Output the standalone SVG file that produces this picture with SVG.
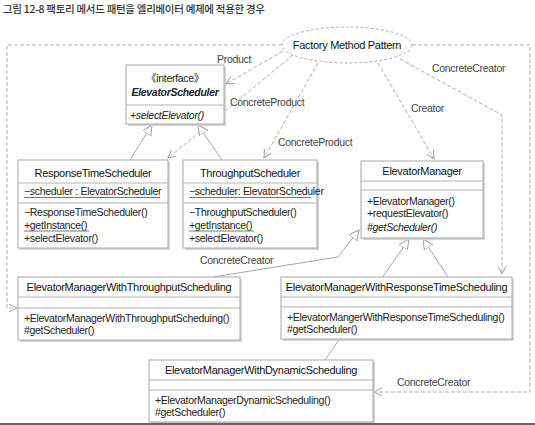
<svg xmlns="http://www.w3.org/2000/svg" width="535" height="425" viewBox="0 0 535 425">
<style>
.t{font-family:"Liberation Sans",Arial,sans-serif;font-size:10.5px;fill:#222;letter-spacing:-0.3px}
.c{text-anchor:middle}
.h{font-size:11px;fill:#111}
.i{font-style:italic}
.b{font-weight:bold}
.lab{font-family:"Liberation Sans",Arial,sans-serif;font-size:10.5px;fill:#444;letter-spacing:-0.3px}
.box{fill:#fff;stroke:#a8a8a8;stroke-width:1}
.sh{fill:#d4d4d4}
.dv{stroke:#b4b4b4;stroke-width:1}
.ul{stroke:#555;stroke-width:0.8}
.dash{fill:none;stroke:#b0b0b0;stroke-width:1;stroke-dasharray:4 2}
.gen{fill:none;stroke:#a8a8a8;stroke-width:1}
</style>
<defs>
<marker id="open" markerWidth="10" markerHeight="10" refX="8" refY="4" orient="auto" markerUnits="userSpaceOnUse">
<path d="M0,0 L8,4 L0,8" fill="none" stroke="#a0a0a0" stroke-width="1"/>
</marker>
<marker id="tri" markerWidth="12" markerHeight="12" refX="10" refY="5" orient="auto" markerUnits="userSpaceOnUse">
<path d="M0,0 L10,5 L0,10 Z" fill="#fff" stroke="#a0a0a0" stroke-width="1"/>
</marker>
</defs>
<rect width="535" height="425" fill="#fff"/>
<text x="3" y="13" style="font-family:'Noto Sans CJK KR','Liberation Sans',sans-serif;font-size:10.5px;fill:#333;font-weight:500;letter-spacing:-0.3px">그림 12-8 팩토리 메서드 패턴을 엘리베이터 예제에 적용한 경우</text>
<rect x="0" y="423" width="535" height="2" fill="#666"/>

<g id="connectors">
<path class="dash" d="M282,45 L7,45 L7,308 L17,308" marker-end="url(#open)"/>
<path class="dash" d="M412,45 L530,45 L530,392 L374,392" marker-end="url(#open)"/>
<path class="dash" d="M288,48 L226,84" marker-end="url(#open)"/>
<path class="dash" d="M293,55 L168,158" marker-end="url(#open)"/>
<path class="dash" d="M318,63 L264,158" marker-end="url(#open)"/>
<path class="dash" d="M378,63 L434,159" marker-end="url(#open)"/>
<path class="dash" d="M400,59 L502,115 L502,274" marker-end="url(#open)"/>
<path class="gen" d="M130,160 L152,125" marker-end="url(#tri)"/>
<path class="gen" d="M222,160 L198,125" marker-end="url(#tri)"/>
<path class="gen" d="M213,277 L338,257 L359,230" marker-end="url(#tri)"/>
<path class="gen" d="M448,277 L423,239" marker-end="url(#tri)"/>
<path class="gen" d="M325,360 L409,239" marker-end="url(#tri)"/>
<text class="lab" x="217" y="63">Product</text>
<text class="lab" x="230" y="106">ConcreteProduct</text>
<text class="lab" x="278" y="146">ConcreteProduct</text>
<text class="lab" x="411" y="112">Creator</text>
<text class="lab" x="432" y="72">ConcreteCreator</text>
<text class="lab" x="200" y="264">ConcreteCreator</text>
<text class="lab" x="397" y="386">ConcreteCreator</text>
</g>

<g id="factory-method-pattern">
<ellipse cx="347" cy="45" rx="65" ry="18" fill="#fff" stroke="#b0b0b0" stroke-dasharray="3 2"/>
<text class="t c h" x="347" y="49">Factory Method Pattern</text>
</g>

<g id="elevator-scheduler">
<rect class="sh" x="128" y="67" width="98" height="59"/>
<rect class="box" x="126" y="65" width="98" height="59"/>
<line class="dv" x1="126" y1="105" x2="224" y2="105"/>
<text class="t c" x="175" y="82" style="font-family:'Liberation Sans','Noto Sans CJK KR',sans-serif">《interface》</text>
<text class="t c i b" x="175" y="96">ElevatorScheduler</text>
<text class="t i" x="130" y="119">+selectElevator()</text>
</g>

<g id="response-time-scheduler">
<rect class="sh" x="20" y="162" width="150" height="88"/>
<rect class="box" x="18" y="160" width="150" height="88"/>
<line class="dv" x1="18" y1="183" x2="168" y2="183"/>
<line class="dv" x1="18" y1="203" x2="168" y2="203"/>
<text class="t c h" x="93" y="177">ResponseTimeScheduler</text>
<text class="t" x="24" y="195">−scheduler : ElevatorScheduler</text>
<line class="ul" x1="24" y1="197.5" x2="160" y2="197.5"/>
<text class="t" x="24" y="216">−ResponseTimeScheduler()</text>
<text class="t" x="24" y="229">+getInstance()</text>
<line class="ul" x1="24" y1="231" x2="89" y2="231"/>
<text class="t" x="24" y="242">+selectElevator()</text>
</g>

<g id="throughput-scheduler">
<rect class="sh" x="185" y="162" width="134" height="88"/>
<rect class="box" x="183" y="160" width="134" height="88"/>
<line class="dv" x1="183" y1="183" x2="317" y2="183"/>
<line class="dv" x1="183" y1="203" x2="317" y2="203"/>
<text class="t c h" x="250" y="177">ThroughputScheduler</text>
<text class="t" x="189" y="195">−scheduler: ElevatorScheduler</text>
<line class="ul" x1="189" y1="197.5" x2="311" y2="197.5"/>
<text class="t" x="189" y="216">−ThroughputScheduler()</text>
<text class="t" x="189" y="229">+getInstance()</text>
<line class="ul" x1="189" y1="231" x2="254" y2="231"/>
<text class="t" x="189" y="242">+selectElevator()</text>
</g>

<g id="elevator-manager">
<rect class="sh" x="363" y="163" width="122" height="77"/>
<rect class="box" x="361" y="161" width="122" height="77"/>
<line class="dv" x1="361" y1="181" x2="483" y2="181"/>
<line class="dv" x1="361" y1="190" x2="483" y2="190"/>
<text class="t c h" x="422" y="175">ElevatorManager</text>
<text class="t" x="367" y="205">+ElevatorManager()</text>
<text class="t" x="367" y="217">+requestElevator()</text>
<text class="t i" x="367" y="231">#getScheduler()</text>
</g>

<g id="em-throughput">
<rect class="sh" x="20" y="279" width="222" height="63"/>
<rect class="box" x="18" y="277" width="222" height="63"/>
<line class="dv" x1="18" y1="297" x2="240" y2="297"/>
<line class="dv" x1="18" y1="308" x2="240" y2="308"/>
<text class="t c h" x="129" y="291">ElevatorManagerWithThroughputScheduling</text>
<text class="t" x="24" y="322">+ElevatorManagerWithThroughputScheduing()</text>
<text class="t" x="24" y="334">#getScheduler()</text>
</g>

<g id="em-response-time">
<rect class="sh" x="283" y="279" width="231" height="62"/>
<rect class="box" x="281" y="277" width="231" height="62"/>
<line class="dv" x1="281" y1="297" x2="512" y2="297"/>
<line class="dv" x1="281" y1="307" x2="512" y2="307"/>
<text class="t c h" x="396.5" y="291">ElevatorManagerWithResponseTimeScheduling</text>
<text class="t" x="287" y="321">+ElevatorMangerWithResponseTimeScheduling()</text>
<text class="t" x="287" y="333">#getScheduler()</text>
</g>

<g id="em-dynamic">
<rect class="sh" x="151" y="362" width="224" height="61"/>
<rect class="box" x="149" y="360" width="224" height="62"/>
<line class="dv" x1="149" y1="380" x2="373" y2="380"/>
<line class="dv" x1="149" y1="390" x2="373" y2="390"/>
<text class="t c h" x="261" y="374">ElevatorManagerWithDynamicScheduling</text>
<text class="t" x="155" y="404">+ElevatorManagerDynamicScheduling()</text>
<text class="t" x="155" y="416">#getScheduler()</text>
</g>
</svg>
